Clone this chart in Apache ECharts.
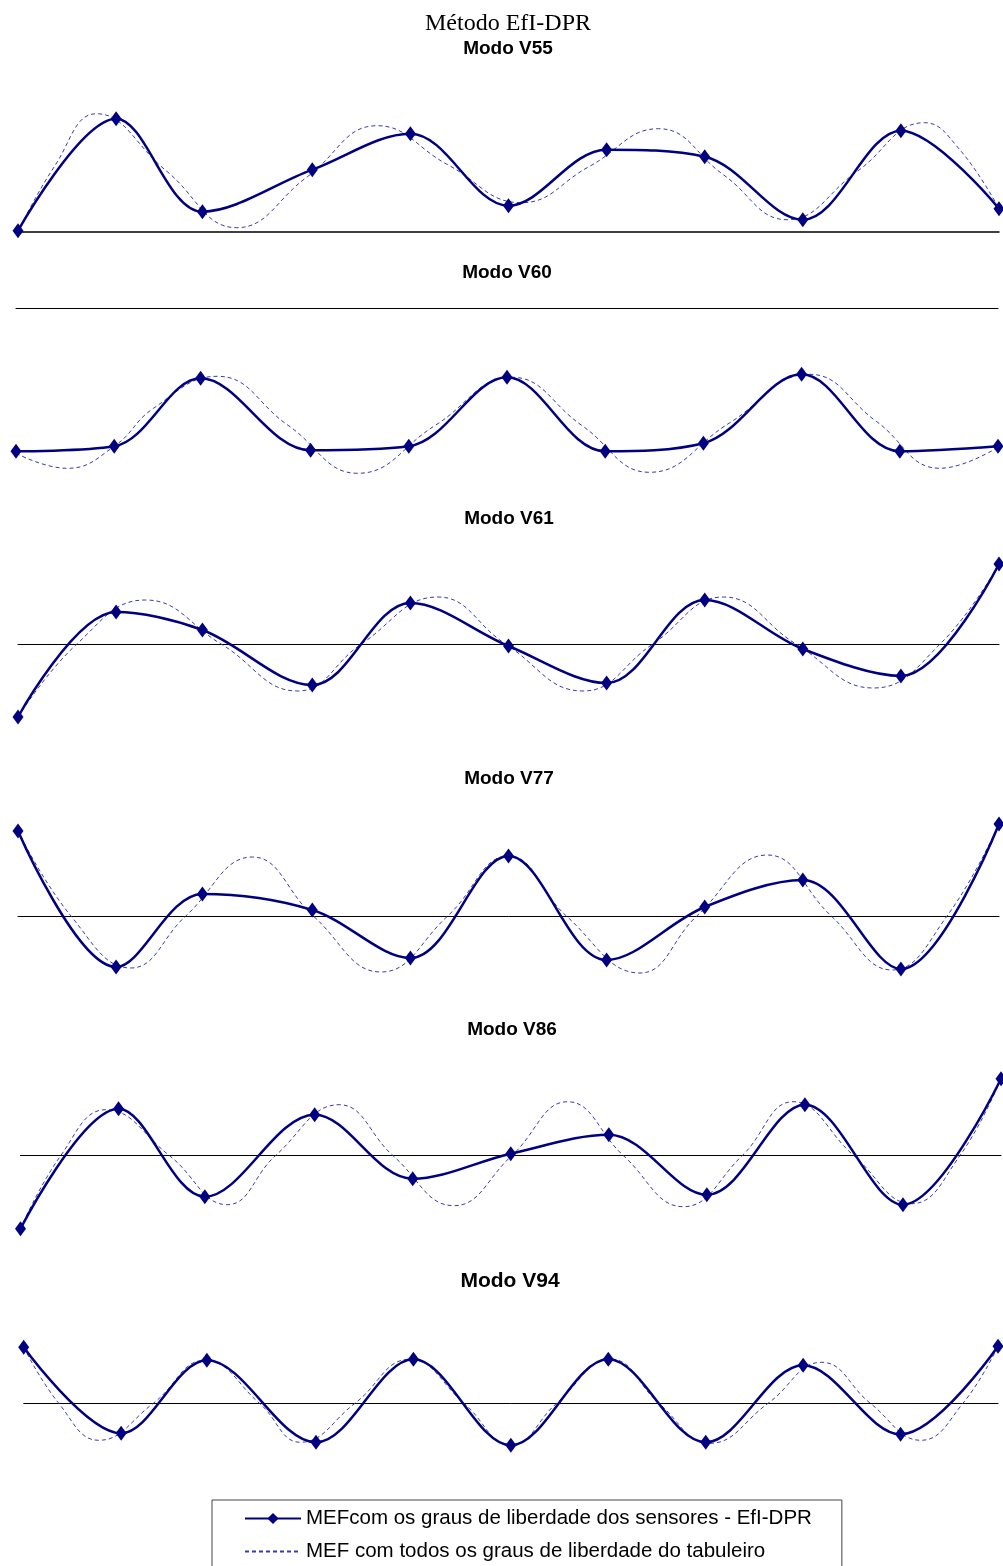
<!DOCTYPE html>
<html>
<head>
<meta charset="utf-8">
<script src="https://cdn.jsdelivr.net/npm/echarts@6/dist/echarts.min.js"></script>
<style>
  html, body { margin: 0; padding: 0; background: #fff; }
  #chart { width: 1003px; height: 1566px; }
</style>
</head>
<body>
<div id="chart"></div>
<script>
// sensor positions along the deck (same for every mode), 0..100
const sensorPos = [0, 10, 18.8, 30, 40, 50, 60, 70, 80, 90, 100];

// EfI-DPR (sensor dofs) values per mode
const v55Sensors = [0.01, 1.13, 0.20, 0.62, 0.98, 0.26, 0.82, 0.75, 0.12, 1.01, 0.23];
const v60Sensors = [-1.43, -1.38, -0.70, -1.42, -1.38, -0.69, -1.43, -1.35, -0.66, -1.43, -1.38];
const v61Sensors = [-0.73, 0.32, 0.14, -0.41, 0.41, -0.02, -0.39, 0.44, -0.05, -0.32, 0.80];
const v77Sensors = [0.85, -0.51, 0.22, 0.06, -0.42, 0.60, -0.44, 0.09, 0.36, -0.53, 0.92];
const v86Sensors = [-0.73, 0.47, -0.41, 0.41, -0.23, 0.02, 0.21, -0.39, 0.51, -0.49, 0.77];
const v94Sensors = [0.56, -0.30, 0.43, -0.39, 0.44, -0.42, 0.44, -0.39, 0.38, -0.31, 0.57];

// full model (all dofs) curves: positions and values
const v55FullX = [0, 3.7, 8.0, 15.1, 22.3, 29.5, 36.6, 43.8, 51.3, 58.2, 65.3, 71.9, 78.4, 85.5, 92.4, 96.0, 100];
const v55FullY = [0, 0.65, 1.18, 0.61, 0.04, 0.55, 1.06, 0.67, 0.29, 0.65, 1.03, 0.57, 0.12, 0.60, 1.09, 0.82, 0.23];
const v60FullX = [0, 5.2, 10.0, 14.0, 20.5, 27.7, 34.8, 42.7, 50.5, 57.6, 64.5, 72.6, 80.8, 87.6, 94.1, 100];
const v60FullY = [-1.45, -1.60, -1.38, -1.0, -0.68, -1.17, -1.65, -1.17, -0.69, -1.17, -1.64, -1.15, -0.66, -1.13, -1.60, -1.39];
const v61FullX = [0, 6.0, 13.0, 20.7, 28.5, 35.0, 42.8, 49.7, 57.6, 64.7, 71.9, 79.3, 87.2, 94.0, 100];
const v61FullY = [-0.73, 0, 0.44, 0, -0.47, 0, 0.47, 0, -0.47, 0, 0.47, 0, -0.44, 0, 0.80];
const v77FullX = [0, 5.4, 11.5, 17.1, 23.9, 30.1, 37.0, 43.8, 50, 55.9, 63.4, 69.2, 76.4, 82.9, 89.1, 94.7, 100];
const v77FullY = [0.85, 0, -0.52, 0, 0.59, 0, -0.56, 0, 0.60, 0, -0.57, 0, 0.61, 0, -0.54, 0, 0.92];
const v86FullX = [0, 4.1, 8.7, 15.2, 21.1, 26.0, 32.5, 38.0, 44.2, 50.1, 55.8, 61.5, 67.6, 73.6, 78.8, 85.0, 90.9, 95.8, 100];
const v86FullY = [-0.73, 0, 0.46, 0, -0.49, 0, 0.51, 0, -0.50, 0, 0.54, 0, -0.51, 0, 0.54, 0, -0.48, 0, 0.77];
const v94FullX = [0, 3.6, 7.7, 13.3, 18.6, 24.2, 28.4, 34.0, 39.6, 45.2, 50, 54.7, 60.3, 65.2, 70.4, 76.4, 81.9, 86.9, 92.1, 96.4, 100];
const v94FullY = [0.56, 0, -0.37, 0, 0.43, 0, -0.39, 0, 0.44, 0, -0.42, 0, 0.44, 0, -0.40, 0, 0.41, 0, -0.37, 0, 0.57];

const modeNames = ['Modo V55', 'Modo V60', 'Modo V61', 'Modo V77', 'Modo V86', 'Modo V94'];
const sensorName = 'MEFcom os graus de liberdade dos sensores - EfI-DPR';
const fullName = 'MEF com todos os graus de liberdade do tabuleiro';

const sensors = [v55Sensors, v60Sensors, v61Sensors, v77Sensors, v86Sensors, v94Sensors];
const fullX = [v55FullX, v60FullX, v61FullX, v77FullX, v86FullX, v94FullX];
const fullY = [v55FullY, v60FullY, v61FullY, v77FullY, v86FullY, v94FullY];

// layout of each panel (pixels): left/right edge, y of zero line, y range, title
const panels = [
  {left: 18, right: 999, zero: 231.7, yMin: -0.15, yMax: 1.3, titleX: 508, titleTop: 39, titleSize: 19, axisW: 1.5},
  {left: 16, right: 998, zero: 308.3, yMin: -1.8, yMax: 0.15, titleX: 507, titleTop: 263, titleSize: 19, axisW: 1},
  {left: 18, right: 999, zero: 644, yMin: -0.85, yMax: 0.9, titleX: 509, titleTop: 509, titleSize: 19, axisW: 1},
  {left: 18, right: 999, zero: 916, yMin: -0.7, yMax: 1.0, titleX: 509, titleTop: 769, titleSize: 19, axisW: 1},
  {left: 20.5, right: 1001, zero: 1155.7, yMin: -0.85, yMax: 0.9, titleX: 512, titleTop: 1020, titleSize: 19, axisW: 1},
  {left: 23.7, right: 998, zero: 1403.3, yMin: -0.6, yMax: 0.7, titleX: 510, titleTop: 1271, titleSize: 21, axisW: 1}
];
const PX_PER_UNIT = 100;

let titles = [{
  text: 'Método EfI-DPR', left: 508, top: 12, padding: 0, textAlign: 'center',
  textStyle: {fontFamily: 'Liberation Serif', fontSize: 24, fontWeight: 'normal', color: '#000'}
}];
let grids = [], xAxes = [], yAxes = [], series = [];

panels.forEach(function (p, i) {
  titles.push({
    text: modeNames[i], left: p.titleX, top: p.titleTop, padding: 0, textAlign: 'center',
    textStyle: {fontFamily: 'Liberation Sans', fontSize: p.titleSize, fontWeight: 'bold', color: '#000'}
  });
  grids.push({
    left: p.left,
    width: p.right - p.left,
    top: p.zero - p.yMax * PX_PER_UNIT,
    height: (p.yMax - p.yMin) * PX_PER_UNIT
  });
  xAxes.push({
    type: 'value', gridIndex: i, min: 0, max: 100,
    axisLine: {show: true, onZero: true, lineStyle: {color: '#000', width: p.axisW}},
    axisTick: {show: false}, axisLabel: {show: false}, splitLine: {show: false}
  });
  yAxes.push({
    type: 'value', gridIndex: i, min: p.yMin, max: p.yMax, show: false,
    splitLine: {show: false}
  });
  series.push({
    name: fullName, type: 'line', xAxisIndex: i, yAxisIndex: i,
    data: fullX[i].map(function (x, k) { return [x, fullY[i][k]]; }),
    smooth: 0.45, symbol: 'none', clip: false, z: 2,
    lineStyle: {color: '#3a3aa8', width: 1, type: [4, 3]},
    itemStyle: {color: '#3a3aa8'}
  });
  series.push({
    name: sensorName, type: 'line', xAxisIndex: i, yAxisIndex: i,
    data: sensorPos.map(function (x, k) { return [x, sensors[i][k]]; }),
    smooth: 0.35, symbol: 'diamond', symbolSize: [11, 15], clip: false, z: 3,
    lineStyle: {color: '#000080', width: 2.5},
    itemStyle: {color: '#000080'}
  });
});

const chart = echarts.init(document.getElementById('chart'));
chart.setOption({
  animation: false,
  backgroundColor: '#fff',
  title: titles,
  grid: grids,
  xAxis: xAxes,
  yAxis: yAxes,
  legend: {
    data: [
      {name: sensorName},
      {name: fullName, itemStyle: {opacity: 0}}
    ],
    orient: 'vertical',
    left: 212, top: 1500,
    width: 640, height: 120,
    padding: [8, 30, 8, 32],
    itemWidth: 56, itemHeight: 14, itemGap: 12,
    borderColor: '#444', borderWidth: 1,
    textStyle: {fontFamily: 'Liberation Sans', fontSize: 20.5, color: '#000'}
  },
  series: series
});
</script>
</body>
</html>
